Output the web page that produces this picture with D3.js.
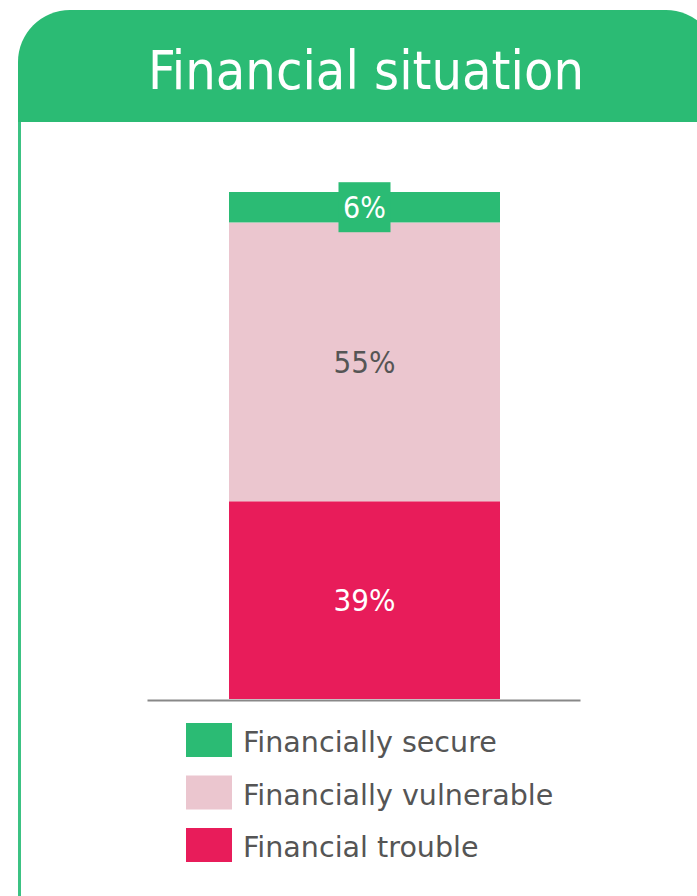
<!DOCTYPE html>
<html>
<head>
<meta charset="utf-8">
<script src="https://cdn.jsdelivr.net/npm/d3@7"></script>
<style>
  html, body { margin: 0; padding: 0; background: #fff; overflow: hidden; }
  svg { display: block; }
  text { font-family: "DejaVu Sans Condensed", "DejaVu Sans", sans-serif; }
  .legend text { font-family: "DejaVu Sans", sans-serif; }
</style>
</head>
<body>
<svg id="chart" width="697" height="896"></svg>
<script>
// Share of respondents by financial situation (stacked bottom to top)
const categories = ["Financial trouble", "Financially vulnerable", "Financially secure"];
const values = [39, 55, 6];
const colors = ["#e81c5a", "#ebc6cf", "#2bbb74"];
const labelColors = ["#ffffff", "#555555", "#ffffff"];
const legendOrder = ["Financially secure", "Financially vulnerable", "Financial trouble"];
const title = "Financial situation";

const green = "#2bbb74";
const svg = d3.select("#chart");

// Header panel with rounded top corners
const hx = 18, hy = 10, hw = 700, hh = 112, r = 52;
svg.append("path")
  .attr("d", `M${hx},${hy + hh} L${hx},${hy + r} A${r},${r} 0 0 1 ${hx + r},${hy}
              L${hx + hw - r},${hy} A${r},${r} 0 0 1 ${hx + hw},${hy + r} L${hx + hw},${hy + hh} Z`)
  .attr("fill", green);

// Left frame line below the header
svg.append("rect")
  .attr("x", 18).attr("y", hy + hh).attr("width", 3).attr("height", 896 - hy - hh)
  .attr("fill", "#3cc283");

const titleText = svg.append("text")
  .attr("x", 366).attr("y", 89)
  .attr("text-anchor", "middle")
  .attr("fill", "#fff")
  .attr("font-size", 52)
  .text(title);
// fit title to its span
const tw = titleText.node().getComputedTextLength();
titleText.attr("font-size", 52 * 436 / tw);

// Scales
const total = d3.sum(values);
const y = d3.scaleLinear().domain([0, total]).range([699, 192]);
const x = d3.scaleBand().domain(["all"]).range([229, 500]).padding(0);

// Stack
const stackData = [Object.fromEntries(categories.map((c, i) => [c, values[i]]))];
const series = d3.stack().keys(categories)(stackData);

const g = svg.append("g");
g.selectAll("rect.seg")
  .data(series)
  .join("rect")
  .attr("class", "seg")
  .attr("x", x("all"))
  .attr("width", x.bandwidth())
  .attr("y", d => y(d[0][1]))
  .attr("height", d => y(d[0][0]) - y(d[0][1]))
  .attr("fill", (d, i) => colors[i]);

// Value labels
series.forEach((s, i) => {
  const cy = (y(s[0][0]) + y(s[0][1])) / 2;
  const cx = x("all") + x.bandwidth() / 2;
  const small = values[i] < 10;
  if (small) {
    // badge behind the label of the thin segment
    g.append("rect")
      .attr("x", cx - 26).attr("y", cy - 25)
      .attr("width", 52).attr("height", 50)
      .attr("fill", colors[i]);
  }
  g.append("text")
    .attr("x", cx).attr("y", cy)
    .attr("dy", "0.36em")
    .attr("text-anchor", "middle")
    .attr("fill", labelColors[i])
    .attr("font-size", small ? 30 : 31)
    .text(values[i] + "%");
});

// Baseline axis
const axisScale = d3.scaleLinear().domain([0, 1]).range([147, 580]);
const axis = svg.append("g")
  .attr("transform", "translate(0,700)")
  .call(d3.axisBottom(axisScale).ticks(0).tickSize(0).tickFormat(""));
axis.select(".domain").attr("stroke", "#888").attr("stroke-width", 2);

// Legend
const leg = svg.append("g").attr("class", "legend").attr("transform", "translate(186,723)");
const item = leg.selectAll("g")
  .data(legendOrder)
  .join("g")
  .attr("transform", (d, i) => `translate(0,${i * 52.5})`);
item.append("rect")
  .attr("width", 46).attr("height", 34)
  .attr("fill", d => colors[categories.indexOf(d)]);
const legText = item.append("text")
  .attr("x", 57).attr("y", 19)
  .attr("dy", "0.36em")
  .attr("fill", "#555")
  .attr("font-size", 28)
  .text(d => d);
// size legend text so the first entry spans its measured width
const lw = legText.node().getComputedTextLength();
legText.attr("font-size", 28 * 254 / lw);
</script>
</body>
</html>
